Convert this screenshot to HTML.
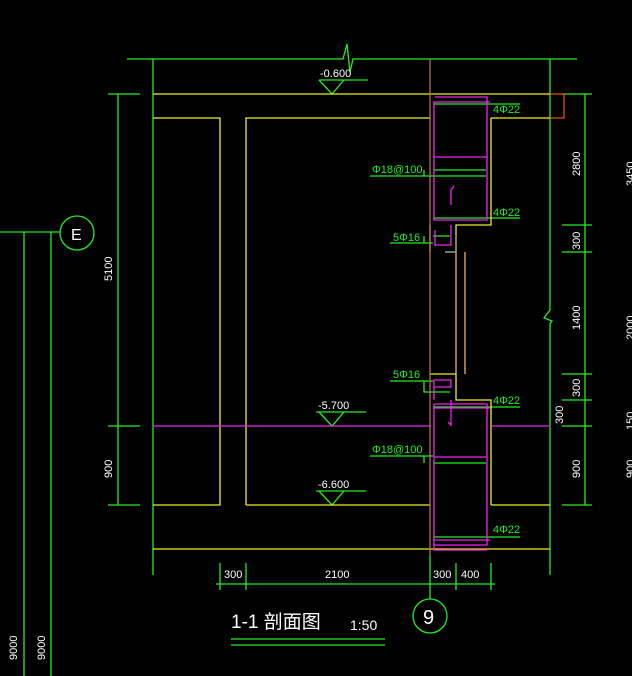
<!DOCTYPE html>
<html><head><meta charset="utf-8"><style>
html,body{margin:0;padding:0;background:#000;width:632px;height:676px;overflow:hidden}
svg{display:block}
text{font-family:"Liberation Sans","Noto Sans CJK SC",sans-serif}
</style></head><body>
<svg width="632" height="676" viewBox="0 0 632 676" xmlns="http://www.w3.org/2000/svg">
<g fill="none" stroke-width="1.3">
<!-- green frame -->
<g stroke="#22ee22">
<path d="M127 59H343l4-15 3 28 3-13H577"/>
<path d="M153 59V575"/>
<path d="M550 59V310l-6 8 8 3-2 3V575"/>
<path d="M118 94V505M108 94H140M108 426H140M108 505H140"/>
<path d="M585 94V505M562 94H592M562 225H592M562 252H592M562 374H592M562 400H592M562 426H592M562 505H592"/>
<path d="M0 232H60"/><path d="M24 232V676M51 232V676"/>
<circle cx="77" cy="233" r="17"/>
<path d="M216 584H495M220 563V590M246 563V590M430 555V599M456 563V590M491 563V590"/>
<circle cx="430" cy="616" r="17"/>
<path d="M231 639H385M231 645H385"/>
<path d="M319 80H368M319 80L332 94L344 80"/>
<path d="M316 412H366M319 412L332 426L344 412"/>
<path d="M316 491H366M319 491L332 505L344 491"/>
<path d="M370 176H433M424 176V170M433 176H486M433 170H486"/>
<path d="M370 456H433M424 456V463M433 463H486"/>
<path d="M390 243H433M424 243V236M433 236H450"/>
<path d="M390 381H433M424 381V392H450"/>
<path d="M433 104H520M433 218H520M433 407H520M433 537H520"/>
</g>
<!-- yellow -->
<g stroke="#eeee22">
<path d="M153 94H550"/>
<path d="M153 118H220V505H153M246 505V118H430M491 118H550M246 505H430M491 505H550"/>
<path d="M491 118V225H456V252H445M430 225V252"/>
<path d="M430 374H456V400H491V505"/>
<path d="M153 549H550"/>
</g>
<!-- magenta level line -->
<path d="M153 426H430M491 426H550" stroke="#ee22ee"/>
<!-- brown / orange -->
<path d="M430 59V555" stroke="#b0705a"/>
<path d="M456 252V374M465 252V374" stroke="#f0b080"/>
<path d="M550 94H564V118H550" stroke="#e05020"/>
<!-- magenta cages -->
<g stroke="#ee22ee">
<path d="M435 97H487V220H434V102H490"/>
<path d="M434 157H487"/>
<path d="M451 225V245H435V230M451 205V190l3-4"/>
<path d="M434 387H451V380H434V400"/>
<path d="M434 404H487V545H434V404M434 408H490M434 540H490M434 545V550H487"/>
<path d="M434 457H487M451 400V425l-3-3"/>
</g>
<path d="M456 252V235M445 252H456" stroke="#999"/>
</g>
<g fill="#fff" font-size="11">
<text x="320" y="77">-0.600</text>
<text x="318" y="409">-5.700</text>
<text x="318" y="488">-6.600</text>
<text x="224" y="578">300</text>
<text x="325" y="578">2100</text>
<text x="433" y="578">300</text>
<text x="461" y="578">400</text>
<text x="71" y="240" font-size="16">E</text>
<text x="423" y="624" font-size="20">9</text>
<text x="231" y="628" font-size="19">1-1  剖面图</text>
<text x="350" y="630" font-size="14">1:50</text>
<g font-size="11">
<text transform="translate(112,281) rotate(-90)">5100</text>
<text transform="translate(112,478) rotate(-90)">900</text>
<text transform="translate(580,176) rotate(-90)">2800</text>
<text transform="translate(580,250) rotate(-90)">300</text>
<text transform="translate(580,330) rotate(-90)">1400</text>
<text transform="translate(580,397) rotate(-90)">300</text>
<text transform="translate(563,424) rotate(-90)">300</text>
<text transform="translate(580,478) rotate(-90)">900</text>
<text transform="translate(634,186) rotate(-90)">3450</text>
<text transform="translate(634,340) rotate(-90)">2000</text>
<text transform="translate(634,430) rotate(-90)">150</text>
<text transform="translate(634,478) rotate(-90)">900</text>
<text transform="translate(17,660) rotate(-90)">9000</text>
<text transform="translate(45,660) rotate(-90)">9000</text>
</g>
</g>
<g fill="#22ee22" font-size="11">
<text x="493" y="113">4Φ22</text>
<text x="493" y="216">4Φ22</text>
<text x="493" y="404">4Φ22</text>
<text x="493" y="533">4Φ22</text>
<text x="372" y="173">Φ18@100</text>
<text x="372" y="453">Φ18@100</text>
<text x="393" y="241">5Φ16</text>
<text x="393" y="378">5Φ16</text>
</g>
</svg>
</body></html>
